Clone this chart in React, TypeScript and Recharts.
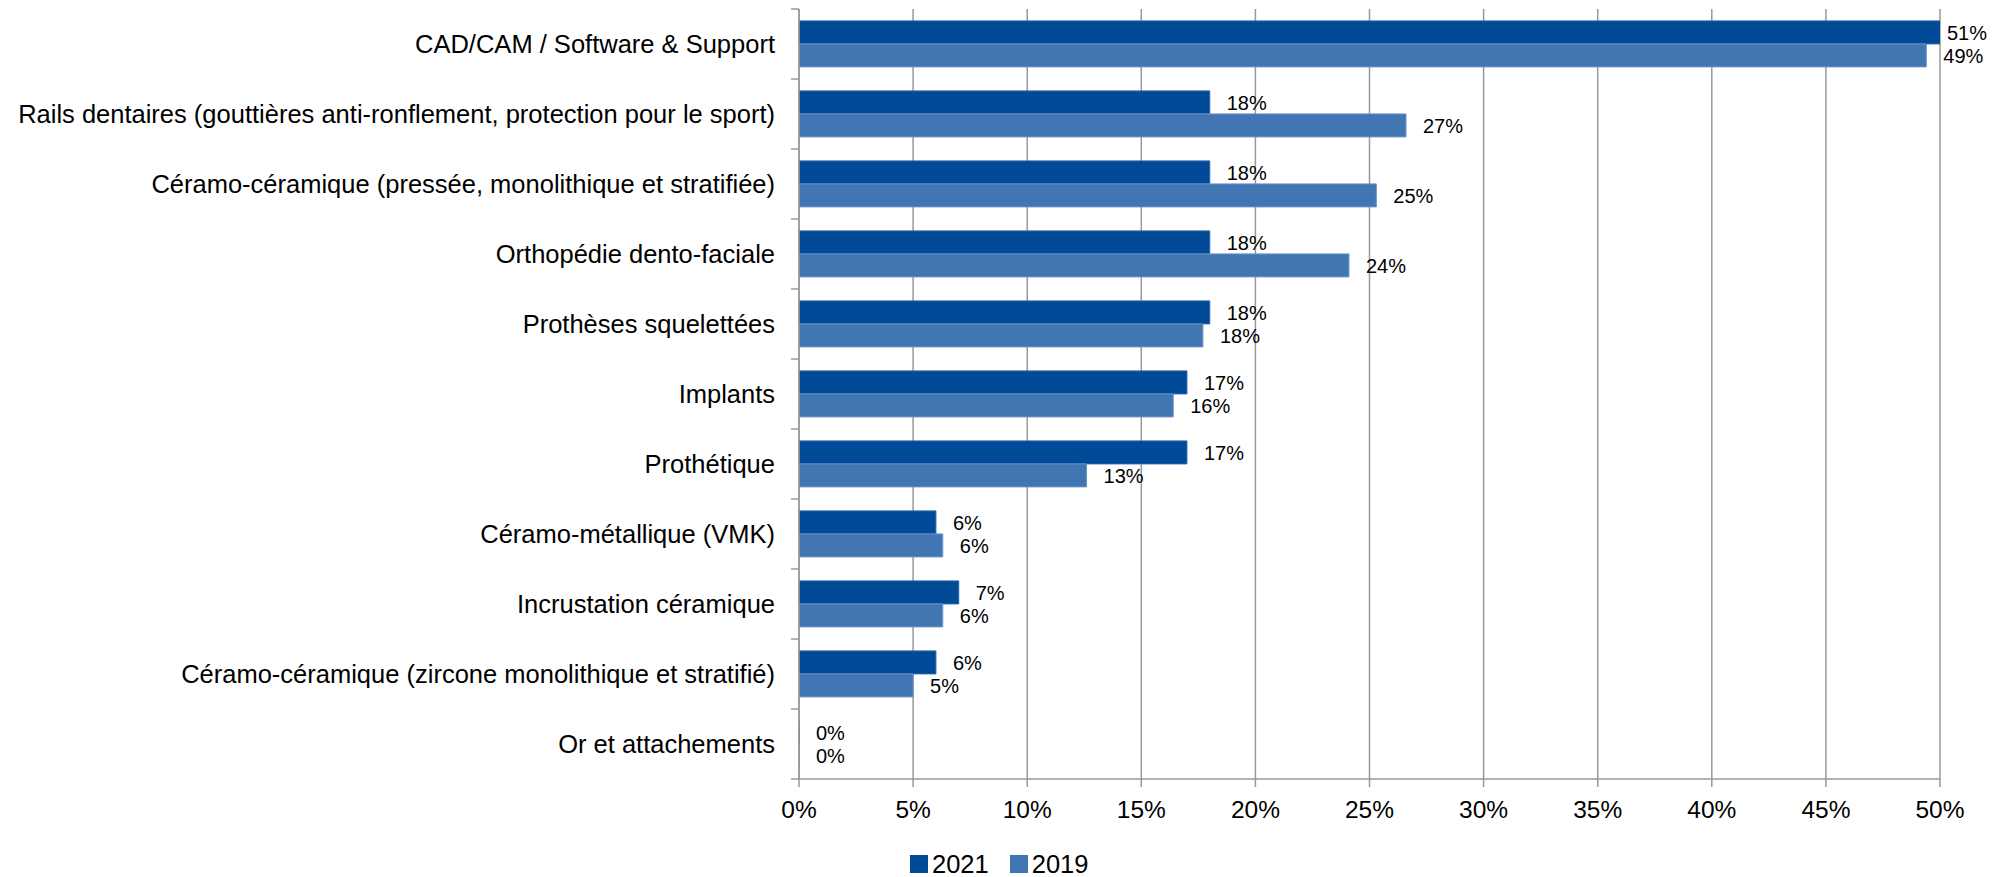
import React from 'react'
import {
  BarChart,
  Bar,
  XAxis,
  YAxis,
  CartesianGrid,
  Legend,
  LabelList,
} from 'recharts'

const categories = [
  'CAD/CAM / Software & Support',
  'Rails dentaires (gouttières anti-ronflement, protection pour le sport)',
  'Céramo-céramique (pressée, monolithique et stratifiée)',
  'Orthopédie dento-faciale',
  'Prothèses squelettées',
  'Implants',
  'Prothétique',
  'Céramo-métallique (VMK)',
  'Incrustation céramique',
  'Céramo-céramique (zircone monolithique et stratifié)',
  'Or et attachements',
]

const values2021 = [0.506, 0.18, 0.18, 0.18, 0.18, 0.17, 0.17, 0.06, 0.07, 0.06, 0]
const values2019 = [0.494, 0.266, 0.253, 0.241, 0.177, 0.164, 0.126, 0.063, 0.063, 0.05, 0]

const xTicks = [0, 0.05, 0.1, 0.15, 0.2, 0.25, 0.3, 0.35, 0.4, 0.45, 0.5]

const seriesNames = ['2021', '2019']
const colors = ['#004a98', '#4176b2']

const data = categories.map((name, i) => ({
  name,
  y2021: values2021[i],
  y2019: values2019[i],
}))

// layout
const W = 2006
const H = 877
const AXIS_W = 799
const M_TOP = 9
const M_RIGHT = 66
const XAXIS_H = 58
const LEGEND_H = 40
const PLOT_RIGHT = W - M_RIGHT
const PLOT_H = H - M_TOP - XAXIS_H - LEGEND_H
const BAND = PLOT_H / categories.length
const TICK_SIZE = 8
const TICK_MARGIN = 16
const FONT = '"Liberation Sans", Arial, sans-serif'
const GREY = '#999999'

const pct = (v: number) => `${Math.round(v * 100)}%`

const CategoryTick = (props: any) => {
  const { x, y, payload, index } = props
  const lx1 = x + TICK_MARGIN
  const lx2 = lx1 + TICK_SIZE
  return (
    <g>
      <line x1={lx1} x2={lx2} y1={y - BAND / 2} y2={y - BAND / 2} stroke={GREY} strokeWidth={1.5} />
      {index === categories.length - 1 && (
        <line x1={lx1} x2={lx2} y1={y + BAND / 2} y2={y + BAND / 2} stroke={GREY} strokeWidth={1.5} />
      )}
      <text x={x} y={y} dy="0.36em" textAnchor="end" fontSize={25.5} fontFamily={FONT} fill="#000">
        {payload.value}
      </text>
    </g>
  )
}

const ValueLabel = (props: any) => {
  const vb = props.viewBox && props.viewBox.x !== undefined ? props.viewBox : props
  const x = Number(vb.x ?? props.x ?? 0)
  const y = Number(vb.y ?? props.y ?? 0)
  const width = Number(vb.width ?? props.width ?? 0) || 0
  const height = Number(vb.height ?? props.height ?? 0) || 0
  const end = Math.min(x + width, PLOT_RIGHT - 10)
  return (
    <text
      x={end + 17}
      y={y + height / 2}
      dy="0.36em"
      fontSize={20}
      fontFamily={FONT}
      fill="#000"
    >
      {pct(Number(props.value))}
    </text>
  )
}

const LegendContent = () => (
  <div
    style={{
      height: LEGEND_H,
      boxSizing: 'border-box',
      paddingTop: 14,
      display: 'flex',
      fontFamily: FONT,
      fontSize: 25.5,
      color: '#000',
    }}
  >
    {seriesNames.map((n, i) => (
      <div key={n} style={{ display: 'flex', alignItems: 'center', height: 26, marginRight: 21 }}>
        <div style={{ width: 18, height: 18, background: colors[i], marginRight: 4 }} />
        <span style={{ lineHeight: '26px' }}>{n}</span>
      </div>
    ))}
  </div>
)

export default function App() {
  return (
    <div style={{ position: 'absolute', left: 0, top: 0, width: W, height: H, background: '#fff' }}>
      <BarChart
        width={W}
        height={H}
        data={data}
        layout="vertical"
        margin={{ top: M_TOP, right: M_RIGHT, bottom: 0, left: 0 }}
        barCategoryGap="17%"
        barGap={0}
      >
        <CartesianGrid horizontal={false} stroke={GREY} strokeWidth={1.5} />
        <XAxis
          type="number"
          domain={[0, 0.5]}
          allowDataOverflow
          ticks={xTicks}
          tickFormatter={pct}
          height={XAXIS_H}
          tickSize={TICK_SIZE}
          tickMargin={14}
          axisLine={{ stroke: GREY, strokeWidth: 1.5 }}
          tickLine={{ stroke: GREY, strokeWidth: 1.5 }}
          tick={{ fill: '#000', fontSize: 24.5, fontFamily: FONT }}
        />
        <YAxis
          type="category"
          dataKey="name"
          width={AXIS_W}
          tickSize={TICK_SIZE}
          tickMargin={TICK_MARGIN}
          tickLine={false}
          axisLine={{ stroke: GREY, strokeWidth: 1.5 }}
          tick={<CategoryTick />}
          interval={0}
        />
        <Legend
          verticalAlign="bottom"
          content={<LegendContent />}
          wrapperStyle={{ left: 910, bottom: 0, width: 'auto', height: LEGEND_H }}
        />
        <Bar
          dataKey="y2021"
          name="2021"
          fill={colors[0]}
          stroke="#2c63a6"
          strokeWidth={1}
          minPointSize={0.01}
          isAnimationActive={false}
        >
          <LabelList dataKey="y2021" content={<ValueLabel />} />
        </Bar>
        <Bar
          dataKey="y2019"
          name="2019"
          fill={colors[1]}
          stroke="#6b93c6"
          strokeWidth={1}
          minPointSize={0.01}
          isAnimationActive={false}
        >
          <LabelList dataKey="y2019" content={<ValueLabel />} />
        </Bar>
      </BarChart>
    </div>
  )
}
